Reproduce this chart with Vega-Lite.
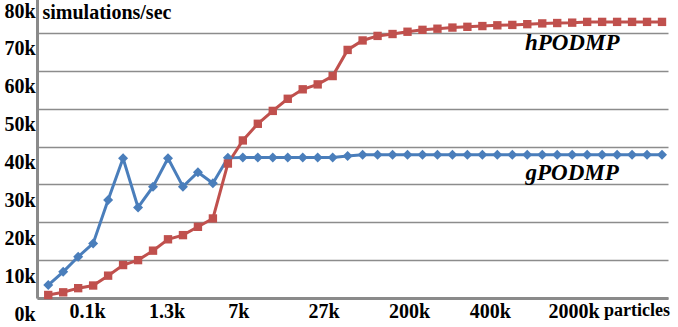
{
  "$schema": "https://vega.github.io/schema/vega-lite/v6.json",
  "width": 631,
  "height": 303,
  "autosize": "none",
  "padding": {"left": 37, "top": -5, "right": 10, "bottom": 29},
  "background": "white",
  "config": {"view": {"stroke": null}, "font": "Liberation Serif, Times New Roman, serif"},
  "datasets": {
    "rates": [
      {"i": 0, "series": "gPODMP", "v": 3400}, {"i": 1, "series": "gPODMP", "v": 6900},
      {"i": 2, "series": "gPODMP", "v": 10900}, {"i": 3, "series": "gPODMP", "v": 14400},
      {"i": 4, "series": "gPODMP", "v": 25900}, {"i": 5, "series": "gPODMP", "v": 36900},
      {"i": 6, "series": "gPODMP", "v": 23900}, {"i": 7, "series": "gPODMP", "v": 29400},
      {"i": 8, "series": "gPODMP", "v": 36900}, {"i": 9, "series": "gPODMP", "v": 29400},
      {"i": 10, "series": "gPODMP", "v": 33200}, {"i": 11, "series": "gPODMP", "v": 30300},
      {"i": 12, "series": "gPODMP", "v": 37000}, {"i": 13, "series": "gPODMP", "v": 37100},
      {"i": 14, "series": "gPODMP", "v": 37100}, {"i": 15, "series": "gPODMP", "v": 37100},
      {"i": 16, "series": "gPODMP", "v": 37100}, {"i": 17, "series": "gPODMP", "v": 37100},
      {"i": 18, "series": "gPODMP", "v": 37100}, {"i": 19, "series": "gPODMP", "v": 37100},
      {"i": 20, "series": "gPODMP", "v": 37500}, {"i": 21, "series": "gPODMP", "v": 37800},
      {"i": 22, "series": "gPODMP", "v": 37800}, {"i": 23, "series": "gPODMP", "v": 37800},
      {"i": 24, "series": "gPODMP", "v": 37800}, {"i": 25, "series": "gPODMP", "v": 37800},
      {"i": 26, "series": "gPODMP", "v": 37800}, {"i": 27, "series": "gPODMP", "v": 37800},
      {"i": 28, "series": "gPODMP", "v": 37800}, {"i": 29, "series": "gPODMP", "v": 37800},
      {"i": 30, "series": "gPODMP", "v": 37800}, {"i": 31, "series": "gPODMP", "v": 37800},
      {"i": 32, "series": "gPODMP", "v": 37800}, {"i": 33, "series": "gPODMP", "v": 37800},
      {"i": 34, "series": "gPODMP", "v": 37800}, {"i": 35, "series": "gPODMP", "v": 37800},
      {"i": 36, "series": "gPODMP", "v": 37800}, {"i": 37, "series": "gPODMP", "v": 37800},
      {"i": 38, "series": "gPODMP", "v": 37800}, {"i": 39, "series": "gPODMP", "v": 37800},
      {"i": 40, "series": "gPODMP", "v": 37800}, {"i": 41, "series": "gPODMP", "v": 37800},
      {"i": 0, "series": "hPODMP", "v": 800}, {"i": 1, "series": "hPODMP", "v": 1500},
      {"i": 2, "series": "hPODMP", "v": 2600}, {"i": 3, "series": "hPODMP", "v": 3300},
      {"i": 4, "series": "hPODMP", "v": 5900}, {"i": 5, "series": "hPODMP", "v": 8700},
      {"i": 6, "series": "hPODMP", "v": 10000}, {"i": 7, "series": "hPODMP", "v": 12500},
      {"i": 8, "series": "hPODMP", "v": 15500}, {"i": 9, "series": "hPODMP", "v": 16600},
      {"i": 10, "series": "hPODMP", "v": 18800}, {"i": 11, "series": "hPODMP", "v": 21000},
      {"i": 12, "series": "hPODMP", "v": 35500}, {"i": 13, "series": "hPODMP", "v": 41600},
      {"i": 14, "series": "hPODMP", "v": 46000}, {"i": 15, "series": "hPODMP", "v": 49400},
      {"i": 16, "series": "hPODMP", "v": 52600}, {"i": 17, "series": "hPODMP", "v": 55100},
      {"i": 18, "series": "hPODMP", "v": 56400}, {"i": 19, "series": "hPODMP", "v": 58600},
      {"i": 20, "series": "hPODMP", "v": 65500}, {"i": 21, "series": "hPODMP", "v": 68000},
      {"i": 22, "series": "hPODMP", "v": 69200}, {"i": 23, "series": "hPODMP", "v": 69700},
      {"i": 24, "series": "hPODMP", "v": 70300}, {"i": 25, "series": "hPODMP", "v": 70800},
      {"i": 26, "series": "hPODMP", "v": 71100}, {"i": 27, "series": "hPODMP", "v": 71400},
      {"i": 28, "series": "hPODMP", "v": 71600}, {"i": 29, "series": "hPODMP", "v": 71800},
      {"i": 30, "series": "hPODMP", "v": 72000}, {"i": 31, "series": "hPODMP", "v": 72100},
      {"i": 32, "series": "hPODMP", "v": 72300}, {"i": 33, "series": "hPODMP", "v": 72500},
      {"i": 34, "series": "hPODMP", "v": 72600}, {"i": 35, "series": "hPODMP", "v": 72700},
      {"i": 36, "series": "hPODMP", "v": 72900}, {"i": 37, "series": "hPODMP", "v": 72900},
      {"i": 38, "series": "hPODMP", "v": 72900}, {"i": 39, "series": "hPODMP", "v": 72900},
      {"i": 40, "series": "hPODMP", "v": 72900}, {"i": 41, "series": "hPODMP", "v": 72900}
    ],
    "names": [
      {"i": 35, "v": 67400, "t": "hPODMP"},
      {"i": 35, "v": 33000, "t": "gPODMP"}
    ]
  },
  "encoding": {
    "x": {
      "field": "i",
      "type": "quantitative",
      "scale": {"domain": [-0.75, 41.4], "nice": false, "zero": false},
      "axis": {
        "title": null,
        "grid": false,
        "ticks": false,
        "domainColor": "#8a8a8a",
        "domainWidth": 3,
        "values": [2.6, 7.9, 12.7, 18.4, 24.1, 29.5, 35.1, 39.3],
        "labelExpr": "{'2.6':'0.1k','7.9':'1.3k','12.7':'7k','18.4':'27k','24.1':'200k','29.5':'400k','35.1':'2000k','39.3':'particles'}[datum.value]",
        "labelFont": "Liberation Serif, Times New Roman, serif",
        "labelFontWeight": "bold",
        "labelFontSize": {"condition": {"test": "datum.value > 39", "value": 18}, "value": 20},
        "labelColor": "black",
        "labelPadding": 3,
        "labelOverlap": false,
        "labelFlush": false,
        "labelBound": false
      }
    },
    "y": {
      "field": "v",
      "type": "quantitative",
      "scale": {"domain": [0, 80000], "nice": false, "zero": true},
      "axis": {
        "title": "simulations/sec",
        "titleAngle": 0,
        "titleAlign": "left",
        "titleBaseline": "middle",
        "titleX": 5,
        "titleY": 17,
        "titleFont": "Liberation Serif, Times New Roman, serif",
        "titleFontWeight": "bold",
        "titleFontSize": 20,
        "titleColor": "black",
        "values": [0, 10000, 20000, 30000, 40000, 50000, 60000, 70000, 80000],
        "labelExpr": "(datum.value / 1000) + 'k'",
        "grid": true,
        "gridColor": "#8c8c8c",
        "gridWidth": 1.5,
        "ticks": false,
        "domainColor": "#8a8a8a",
        "domainWidth": 3,
        "labelFont": "Liberation Serif, Times New Roman, serif",
        "labelFontWeight": "bold",
        "labelFontSize": 20,
        "labelColor": "black",
        "labelPadding": 2,
        "labelOffset": 16,
        "labelOverlap": false,
        "labelFlush": false,
        "labelBound": false
      }
    }
  },
  "layer": [
    {
      "data": {"name": "rates"},
      "mark": {"type": "line", "strokeWidth": 3},
      "encoding": {
        "color": {
          "field": "series",
          "type": "nominal",
          "scale": {"domain": ["gPODMP", "hPODMP"], "range": ["#4a7ebb", "#c0504d"]},
          "legend": null
        }
      }
    },
    {
      "data": {"name": "rates"},
      "mark": {"type": "point", "filled": true, "opacity": 1},
      "encoding": {
        "color": {
          "field": "series",
          "type": "nominal",
          "scale": {"domain": ["gPODMP", "hPODMP"], "range": ["#4a7ebb", "#c0504d"]},
          "legend": null
        },
        "shape": {
          "field": "series",
          "type": "nominal",
          "scale": {"domain": ["gPODMP", "hPODMP"], "range": ["diamond", "square"]},
          "legend": null
        },
        "size": {
          "field": "series",
          "type": "nominal",
          "scale": {"domain": ["gPODMP", "hPODMP"], "range": [100, 70]},
          "legend": null
        }
      }
    },
    {
      "data": {"name": "names"},
      "mark": {
        "type": "text",
        "font": "Liberation Serif, Times New Roman, serif",
        "fontWeight": "bold",
        "fontStyle": "italic",
        "fontSize": 23,
        "color": "black",
        "baseline": "middle",
        "align": "center"
      },
      "encoding": {"text": {"field": "t"}}
    }
  ]
}
